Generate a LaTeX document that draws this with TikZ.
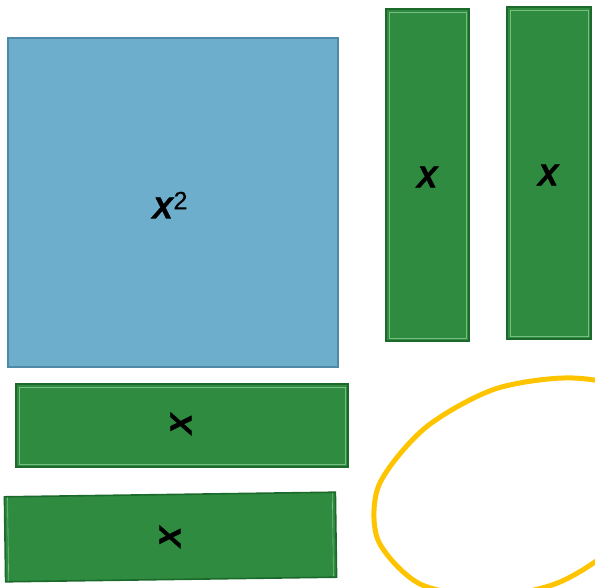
\documentclass[tikz,border=0pt]{standalone}
\usepackage{fontspec}
\newfontfamily\labfont{Liberation Sans Bold Italic}[FakeBold=2]
\newfontfamily\supfont{Liberation Sans}[FakeBold=0.6]
\definecolor{sqfill}{RGB}{108,174,204}
\definecolor{sqedge}{RGB}{78,138,168}
\definecolor{grfill}{RGB}{46,139,64}
\definecolor{gredge}{RGB}{28,105,44}
\definecolor{grline}{RGB}{120,190,130}
\definecolor{yel}{RGB}{255,196,0}
\tikzset{
  lab/.style={font=\labfont\fontsize{30}{32}\selectfont, text=black},
  tile/.style={draw=gredge, fill=grfill, line width=1.6pt, inner sep=0pt,
    path picture={\draw[grline, line width=0.6pt]
      ([shift={(3pt,-3pt)}]path picture bounding box.north west) rectangle
      ([shift={(-3pt,3pt)}]path picture bounding box.south east);}},
  square/.style={draw=sqedge, fill=sqfill, line width=1.6pt, inner sep=0pt},
}
\begin{document}
\begin{tikzpicture}[x=1pt,y=-1pt]
\useasboundingbox (0,0) rectangle (595,588);
% blue square
\node[square, minimum width=330pt, minimum height=329pt] (sq) at (173,202.5) {};
\node[lab] (sqlab) at (170,205) {X\kern1pt\raisebox{0.3em}{\supfont\fontsize{25}{26}\selectfont 2}};
% vertical tiles
\node[tile, minimum width=83pt, minimum height=332pt] (v1) at (427.5,175) {};
\node[lab] (v1lab) at (427,177) {X};
\node[tile, minimum width=84pt, minimum height=332pt] (v2) at (549,173) {};
\node[lab] (v2lab) at (548,175) {X};
% horizontal tiles
\node[tile, minimum width=332pt, minimum height=83pt] (h1) at (182,425.5) {};
\node[lab, rotate=90] (h1lab) at (181,424) {X};
\node[tile, rotate=0.8, minimum width=331pt, minimum height=85pt] (h2) at (170.5,537) {};
\node[lab, rotate=90] (h2lab) at (170,537) {X};
% yellow loop
\begin{scope}
\clip (0,0) rectangle (595,588);
\draw[yel, line width=5pt] plot[smooth cycle] coordinates {
 (573,378) (495,389) (425,428) (379,485) (378,540) (420,584) (490,596)
 (560,582) (620,540) (650,470) (630,395)};
\end{scope}
\end{tikzpicture}
\end{document}
